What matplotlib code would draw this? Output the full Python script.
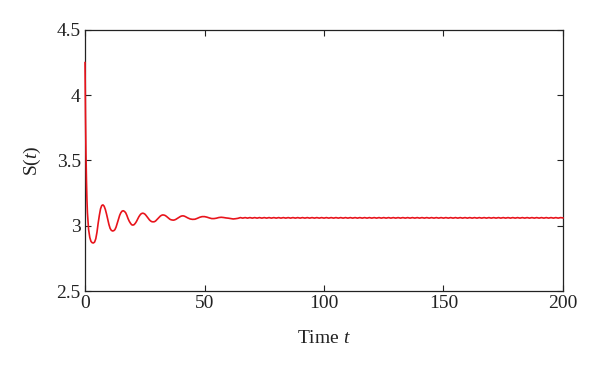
import matplotlib
matplotlib.use("Agg")
import matplotlib.pyplot as plt

plt.rcParams['font.family'] = ['Liberation Serif', 'DejaVu Serif']
plt.rcParams['mathtext.fontset'] = 'custom'
plt.rcParams['mathtext.rm'] = 'Liberation Serif'
plt.rcParams['mathtext.it'] = 'Liberation Serif:italic'

# Early transient
t_early = [0, 0.2, 0.4, 0.6, 0.8, 1.0, 1.5, 2.0, 2.5, 3.0, 3.5, 4.0, 4.5, 5.0, 5.5,
           6.0, 6.5, 7.0, 7.5, 8.0, 8.5, 9.0, 9.5, 10.0, 10.5, 11.0, 11.5, 12.0, 12.5,
           13, 13.5, 14, 14.5, 15, 15.5, 16, 16.5, 17, 17.5, 18, 18.5, 19, 19.5, 20,
           20.5, 21, 21.5, 22, 22.5, 23, 23.5, 24, 24.5, 25, 25.5, 26, 26.5, 27, 27.5,
           28, 28.5, 29, 29.5, 30, 30.5, 31, 31.5, 32, 32.5, 33, 33.5, 34, 34.5, 35,
           35.5, 36, 36.5, 37, 37.5, 38, 38.5, 39, 39.5, 40, 40.5, 41, 41.5, 42, 43,
           44, 45, 46, 47, 48, 49, 50, 51, 52, 53, 54, 55, 56, 57, 58, 59, 60, 61, 62,
           63, 64]
s_early = [4.25, 3.85, 3.55, 3.35, 3.2, 3.1, 2.97, 2.91, 2.88, 2.87, 2.868, 2.875, 2.9,
           2.95, 3.02, 3.08, 3.13, 3.155, 3.16, 3.15, 3.125, 3.09, 3.05, 3.01, 2.98,
           2.965, 2.96, 2.962, 2.97, 2.99, 3.02, 3.05, 3.08, 3.10, 3.112, 3.115, 3.11,
           3.10, 3.08, 3.055, 3.035, 3.02, 3.008, 3.005, 3.008, 3.018, 3.032, 3.05,
           3.068, 3.082, 3.092, 3.096, 3.095, 3.09, 3.08, 3.068, 3.055, 3.044, 3.036,
           3.031, 3.03, 3.031, 3.036, 3.045, 3.055, 3.065, 3.074, 3.08, 3.083, 3.082,
           3.079, 3.073, 3.065, 3.057, 3.05, 3.046, 3.044, 3.043, 3.045, 3.049, 3.055,
           3.062, 3.068, 3.072, 3.075, 3.076, 3.074, 3.07, 3.06, 3.052, 3.049, 3.05,
           3.057, 3.065, 3.07, 3.07, 3.066, 3.06, 3.055, 3.055, 3.058, 3.063, 3.065,
           3.063, 3.06, 3.058, 3.055, 3.052, 3.054, 3.057]

# Late steady state with small wiggles
t_late = list(range(65, 201))
s_late = [3.0625, 3.0585, 3.0625, 3.0585, 3.0625, 3.0585, 3.0625, 3.0585, 3.0625, 3.0585,
          3.0625, 3.0585, 3.0625, 3.0585, 3.0625, 3.0585, 3.0625, 3.0585, 3.0625, 3.0585,
          3.0625, 3.0585, 3.0625, 3.0585, 3.0625, 3.0585, 3.0625, 3.0585, 3.0625, 3.0585,
          3.0625, 3.0585, 3.0625, 3.0585, 3.0625, 3.0585, 3.0625, 3.0585, 3.0625, 3.0585,
          3.0625, 3.0585, 3.0625, 3.0585, 3.0625, 3.0585, 3.0625, 3.0585, 3.0625, 3.0585,
          3.0625, 3.0585, 3.0625, 3.0585, 3.0625, 3.0585, 3.0625, 3.0585, 3.0625, 3.0585,
          3.0625, 3.0585, 3.0625, 3.0585, 3.0625, 3.0585, 3.0625, 3.0585, 3.0625, 3.0585,
          3.0625, 3.0585, 3.0625, 3.0585, 3.0625, 3.0585, 3.0625, 3.0585, 3.0625, 3.0585,
          3.0625, 3.0585, 3.0625, 3.0585, 3.0625, 3.0585, 3.0625, 3.0585, 3.0625, 3.0585,
          3.0625, 3.0585, 3.0625, 3.0585, 3.0625, 3.0585, 3.0625, 3.0585, 3.0625, 3.0585,
          3.0625, 3.0585, 3.0625, 3.0585, 3.0625, 3.0585, 3.0625, 3.0585, 3.0625, 3.0585,
          3.0625, 3.0585, 3.0625, 3.0585, 3.0625, 3.0585, 3.0625, 3.0585, 3.0625, 3.0585,
          3.0625, 3.0585, 3.0625, 3.0585, 3.0625, 3.0585, 3.0625, 3.0585, 3.0625, 3.0585,
          3.0625, 3.0585, 3.0625, 3.0585, 3.0625, 3.060]

x_ticks = [0, 50, 100, 150, 200]
y_ticks = [2.5, 3, 3.5, 4, 4.5]
y_tick_labels = ['2.5', '3', '3.5', '4', '4.5']

t = t_early + t_late
s = s_early + s_late

fig = plt.figure(figsize=(6.0, 3.72), dpi=100)
ax = fig.add_axes([0.1417, 0.2177, 0.7966, 0.7017])
ax.plot(t, s, color='#e8141c', linewidth=1.2, zorder=3, clip_on=False)
ax.set_xlim(0, 200)
ax.set_ylim(2.5, 4.5)
ax.set_xticks(x_ticks)
ax.set_xticklabels([str(v) for v in x_ticks])
ax.set_yticks(y_ticks)
ax.set_yticklabels(y_tick_labels)
ax.tick_params(direction='in', length=4, width=0.8, top=True, right=True,
               labelsize=14, colors='#222222', pad=3)
for sp in ax.spines.values():
    sp.set_linewidth(0.9)
    sp.set_color('#222222')
ax.set_xlabel('Time $t$', fontsize=14, labelpad=13, color='#222222')
ax.set_ylabel('S($t$)', fontsize=14, labelpad=10, color='#222222')

fig.savefig('out.png', dpi=100)
